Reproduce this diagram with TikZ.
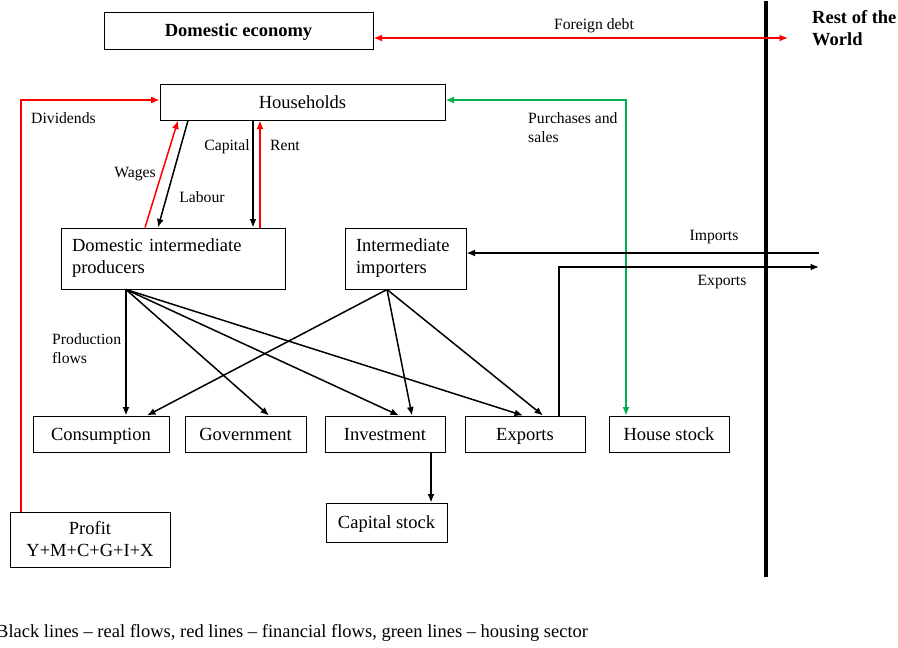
\documentclass[tikz,border=0pt]{standalone}
\usepackage{fontspec}
\setmainfont{Liberation Serif}
\usetikzlibrary{arrows.meta,calc}
\definecolor{flowred}{RGB}{255,0,0}
\definecolor{flowgreen}{RGB}{0,176,80}
\newcommand\boxsize{\fontsize{18.5}{22}\selectfont}
\newcommand\labsize{\fontsize{15.7}{19}\selectfont}

\begin{document}
\begin{tikzpicture}[x=1pt,y=-1pt,
  sector/.style={draw, line width=1pt, inner sep=0pt, font=\boxsize, align=center, minimum height=36pt},
  oneline/.style={sector, text height=12.5pt, text depth=0pt},
  tip/.tip={Latex[length=8.5pt,width=7pt]},
  real/.style={line width=1.5pt, -tip},
  fin/.style={line width=1.5pt, color=flowred, -tip},
  house/.style={line width=1.5pt, color=flowgreen, tip-tip},
  lab/.style={font=\labsize, inner sep=0pt}]
\useasboundingbox (0,0) rectangle (898,648);

% sectors
\node[oneline, minimum width=269pt, minimum height=37pt, font=\boxsize\bfseries] (dom) at (238.5,30.5) {Domestic economy};
\node[oneline, minimum width=285pt] (hh) at (302.5,102) {Households};
\node[sector, minimum width=224pt, minimum height=61pt, text width=202pt, align=left] (prod) at (173,258.5) {Domestic intermediate\\producers};
\node[sector, minimum width=121pt, minimum height=61pt, text width=99pt, align=left] (imp) at (405.5,258.5) {Intermediate\\importers};
\node[oneline, minimum width=136pt] (cons) at (101,434) {Consumption};
\node[oneline, minimum width=121pt] (gov) at (245.5,434) {Government};
\node[oneline, minimum width=120pt] (inv) at (385,434) {Investment};
\node[oneline, minimum width=120pt] (exp) at (525,434) {Exports};
\node[oneline, minimum width=120pt] (hs) at (669,434) {House stock};
\node[oneline, minimum width=121pt, minimum height=39pt] (cap) at (386.5,522.5) {Capital stock};
\node[sector, minimum width=160pt, minimum height=55pt] (profit) at (90,539.5) {Profit\\Y+M+C+G+I+X};

% border to the rest of the world
\coordinate (rwtop) at (766,1);
\coordinate (rwbot) at (766,577);
\draw[line width=4pt] (rwtop) -- (rwbot);
\node[font=\boxsize\bfseries, align=left, anchor=west, inner sep=0pt] (rw) at (812,28) {Rest of the\\World};

% financial flows
\coordinate (fdend) at (788,38);
\draw[fin, tip-tip] ([yshift=-7.5pt]dom.east) -- (fdend);
\node[lab] (fdlab) at (594,26) {Foreign debt};
\draw[fin, line width=1.2pt] ([xshift=-69pt]profit.north) |- ([yshift=2pt]hh.west);
\node[lab] (divlab) at (63.5,118) {Dividends};
\draw[fin] ([xshift=-28pt]prod.north) -- ([xshift=-124.5pt]hh.south);
\draw[fin] ([xshift=87pt]prod.north) -- ([xshift=-42.5pt]hh.south);

% factor flows
\draw[real] ([xshift=-114.5pt]hh.south) -- ([xshift=-15pt]prod.north);
\draw[real] ([xshift=-49.5pt]hh.south) -- ([xshift=80pt]prod.north);
\node[lab] (wagelab) at (135,174) {Wages};
\node[lab] (labourlab) at (202,197) {Labour};
\node[lab] (caplab) at (227,147) {Capital};
\node[lab] (rentlab) at (285,145) {Rent};

% housing
\draw[house] ([yshift=2pt]hh.east) -| ([xshift=-43pt]hs.north);
\node[lab, align=left, anchor=west] (pslab) at (528,127.5) {Purchases and\\sales};

% trade
\coordinate (impin) at (819,253);
\coordinate (expout) at (819,267);
\draw[real] (impin) -- ([yshift=5.5pt]imp.east);
\draw[real] ([xshift=34pt]exp.north) |- (expout);
\node[lab] (implab) at (714,237) {Imports};
\node[lab] (explab) at (722,282) {Exports};

% production flows
\draw[real] ([xshift=-47pt]prod.south) -- ([xshift=25pt]cons.north);
\draw[real] ([xshift=-47pt]prod.south) -- ([xshift=23.5pt]gov.north);
\draw[real] ([xshift=-47pt]prod.south) -- ([xshift=14pt]inv.north);
\draw[real] ([xshift=-47pt]prod.south) -- ([xshift=-2pt]exp.north);
\draw[real] ([xshift=-18.5pt]imp.south) -- ([xshift=46pt]cons.north);
\draw[real] ([xshift=-18.5pt]imp.south) -- ([xshift=27pt]inv.north);
\draw[real] ([xshift=-18.5pt]imp.south) -- ([xshift=18pt]exp.north);
\node[lab, align=left, anchor=west] (pflab) at (52,349) {Production\\flows};

% capital accumulation
\coordinate (invout) at ([xshift=46pt]inv.south);
\draw[real] (invout) -- (invout |- cap.north);

% legend
\node[font=\boxsize, anchor=west, inner sep=0pt] (legend) at (-4,633) {Black lines -- real flows, red lines -- financial flows, green lines -- housing sector};
\end{tikzpicture}
\end{document}
